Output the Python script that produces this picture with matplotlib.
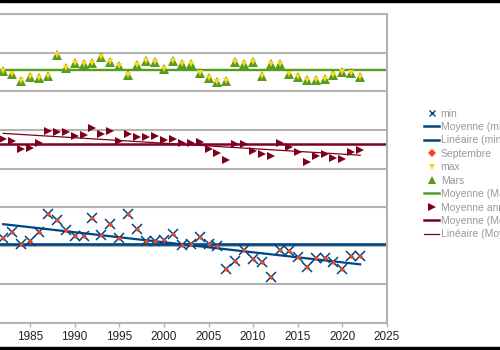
import numpy as np
import matplotlib
matplotlib.use("Agg")
import matplotlib.pyplot as plt
from matplotlib.lines import Line2D
from matplotlib.patches import Rectangle

plt.rcParams['font.family'] = ['Liberation Sans', 'DejaVu Sans']

# années de mesure
annees = list(range(1982, 2023))

# minimum (identique à la série Septembre)
val_min = [2.20, 2.36, 2.05, 2.12, 2.36, 2.82, 2.67, 2.41, 2.25, 2.25,
           2.72, 2.28, 2.56, 2.20, 2.82, 2.43, 2.12, 2.12, 2.15, 2.30,
           2.02, 2.05, 2.23, 2.05, 1.99, 1.40, 1.61, 1.89, 1.66, 1.58,
           1.19, 1.89, 1.86, 1.71, 1.45, 1.68, 1.68, 1.58, 1.40, 1.73,
           1.73]
val_septembre = val_min

# maximum (identique à la série Mars)
val_max = [6.52, 6.45, 6.27, 6.37, 6.34, 6.39, 6.94, 6.60, 6.73, 6.71,
           6.73, 6.89, 6.76, 6.65, 6.42, 6.68, 6.78, 6.76, 6.58, 6.78,
           6.71, 6.71, 6.47, 6.34, 6.24, 6.27, 6.76, 6.71, 6.76, 6.39,
           6.71, 6.71, 6.45, 6.37, 6.29, 6.29, 6.32, 6.42, 6.50, 6.47,
           6.37]
val_mars = val_max

# moyenne annuelle
val_annuelle = [4.76, 4.71, 4.50, 4.53, 4.66, 4.97, 4.94, 4.94, 4.84, 4.87,
                5.05, 4.89, 4.97, 4.71, 4.89, 4.82, 4.82, 4.84, 4.74, 4.76,
                4.66, 4.66, 4.69, 4.50, 4.40, 4.22, 4.63, 4.63, 4.45, 4.38,
                4.32, 4.66, 4.56, 4.43, 4.17, 4.32, 4.38, 4.27, 4.25, 4.43,
                4.48]

annees_ticks = list(range(1975, 2030, 5))

BLEU = '#004586'
ORANGE = '#ff420e'
JAUNE = '#ffd320'
VERT = '#579d1c'
BORDEAUX = '#7e0021'
GRILLE = '#b3b3b3'


def tendance(x, y):
    x = np.asarray(x, dtype=float)
    a, b = np.polyfit(x, y, 1)
    xs = np.array([x[0], x[-1]])
    return xs, a * xs + b


fig = plt.figure(figsize=(5, 3.5), dpi=100)
ax = fig.add_axes([-0.1185, 0.07714, 0.8925, 0.88286])

ax.set_xlim(1975, 2025)
ax.set_ylim(0, 8)
ax.set_xticks(annees_ticks)
ax.set_yticks(range(0, 9))
ax.grid(axis='y', color=GRILLE, linewidth=1.5, zorder=0)
ax.tick_params(axis='y', left=False, labelleft=False)
ax.tick_params(axis='x', length=3, width=1, color=GRILLE, pad=3,
               labelsize=8.5, labelcolor='#222222')
for side in ['top', 'right', 'bottom', 'left']:
    ax.spines[side].set_color(GRILLE)
    ax.spines[side].set_linewidth(1.5)

# série min
ax.plot(annees, val_min, linestyle='none', marker='x', markersize=6.5,
        markeredgewidth=1.1, color=BLEU, zorder=3)
ax.axhline(np.mean(val_min), color=BLEU, linewidth=1.9, zorder=2)
tx, ty = tendance(annees, val_min)
ax.plot(tx, ty, color=BLEU, linewidth=1.6, zorder=2)
ax.plot(annees, val_septembre, linestyle='none', marker='D', markersize=2.5,
        color=ORANGE, markeredgewidth=0, zorder=4)

# série max / Mars
ax.plot(annees, val_mars, linestyle='none', marker='^', markersize=6.5,
        color=VERT, markeredgewidth=0, zorder=3)
ax.plot(annees, val_max, linestyle='none', marker='v', markersize=4.5,
        color=JAUNE, markeredgewidth=0, zorder=4)
ax.axhline(np.mean(val_mars), color=VERT, linewidth=1.7, zorder=2)

# moyenne annuelle
ax.plot(annees, val_annuelle, linestyle='none', marker='>', markersize=6,
        color=BORDEAUX, markeredgewidth=0, zorder=3)
ax.axhline(np.mean(val_annuelle), color=BORDEAUX, linewidth=1.8, zorder=2)
tx, ty = tendance(annees, val_annuelle)
ax.plot(tx, ty, color=BORDEAUX, linewidth=0.9, zorder=2)

handles = [
    Line2D([], [], linestyle='none', marker='x', markersize=5,
           markeredgewidth=1, color=BLEU),
    Line2D([], [], color=BLEU, linewidth=1.8),
    Line2D([], [], color=BLEU, linewidth=1.8),
    Line2D([], [], linestyle='none', marker='D', markersize=4,
           markeredgewidth=0, color=ORANGE),
    Line2D([], [], linestyle='none', marker='v', markersize=5,
           markeredgewidth=0, color=JAUNE),
    Line2D([], [], linestyle='none', marker='^', markersize=5.5,
           markeredgewidth=0, color=VERT),
    Line2D([], [], color=VERT, linewidth=1.8),
    Line2D([], [], linestyle='none', marker='>', markersize=5.5,
           markeredgewidth=0, color=BORDEAUX),
    Line2D([], [], color=BORDEAUX, linewidth=1.8),
    Line2D([], [], color=BORDEAUX, linewidth=0.9),
]
labels = ['min', 'Moyenne (min)', 'Linéaire (min)', 'Septembre', 'max',
          'Mars', 'Moyenne (Mars)', 'Moyenne annuelle',
          'Moyenne (Moyenne annuelle)', 'Linéaire (Moyenne annuelle)']
fig.legend(handles, labels, loc='upper left', bbox_to_anchor=(0.848, 1 - 108.5 / 350),
           frameon=False, fontsize=7.5, labelcolor='#999999', borderpad=0,
           borderaxespad=0, handlelength=1.45, handletextpad=0.15,
           labelspacing=0.33)

# bandes noires en haut et en bas
fig.add_artist(Rectangle((0, 1 - 2 / 350), 1, 2 / 350, transform=fig.transFigure,
                         color='black', zorder=10))
fig.add_artist(Rectangle((0, 0), 1, 3 / 350, transform=fig.transFigure,
                         color='black', zorder=10))

fig.savefig('out.png', dpi=100)
